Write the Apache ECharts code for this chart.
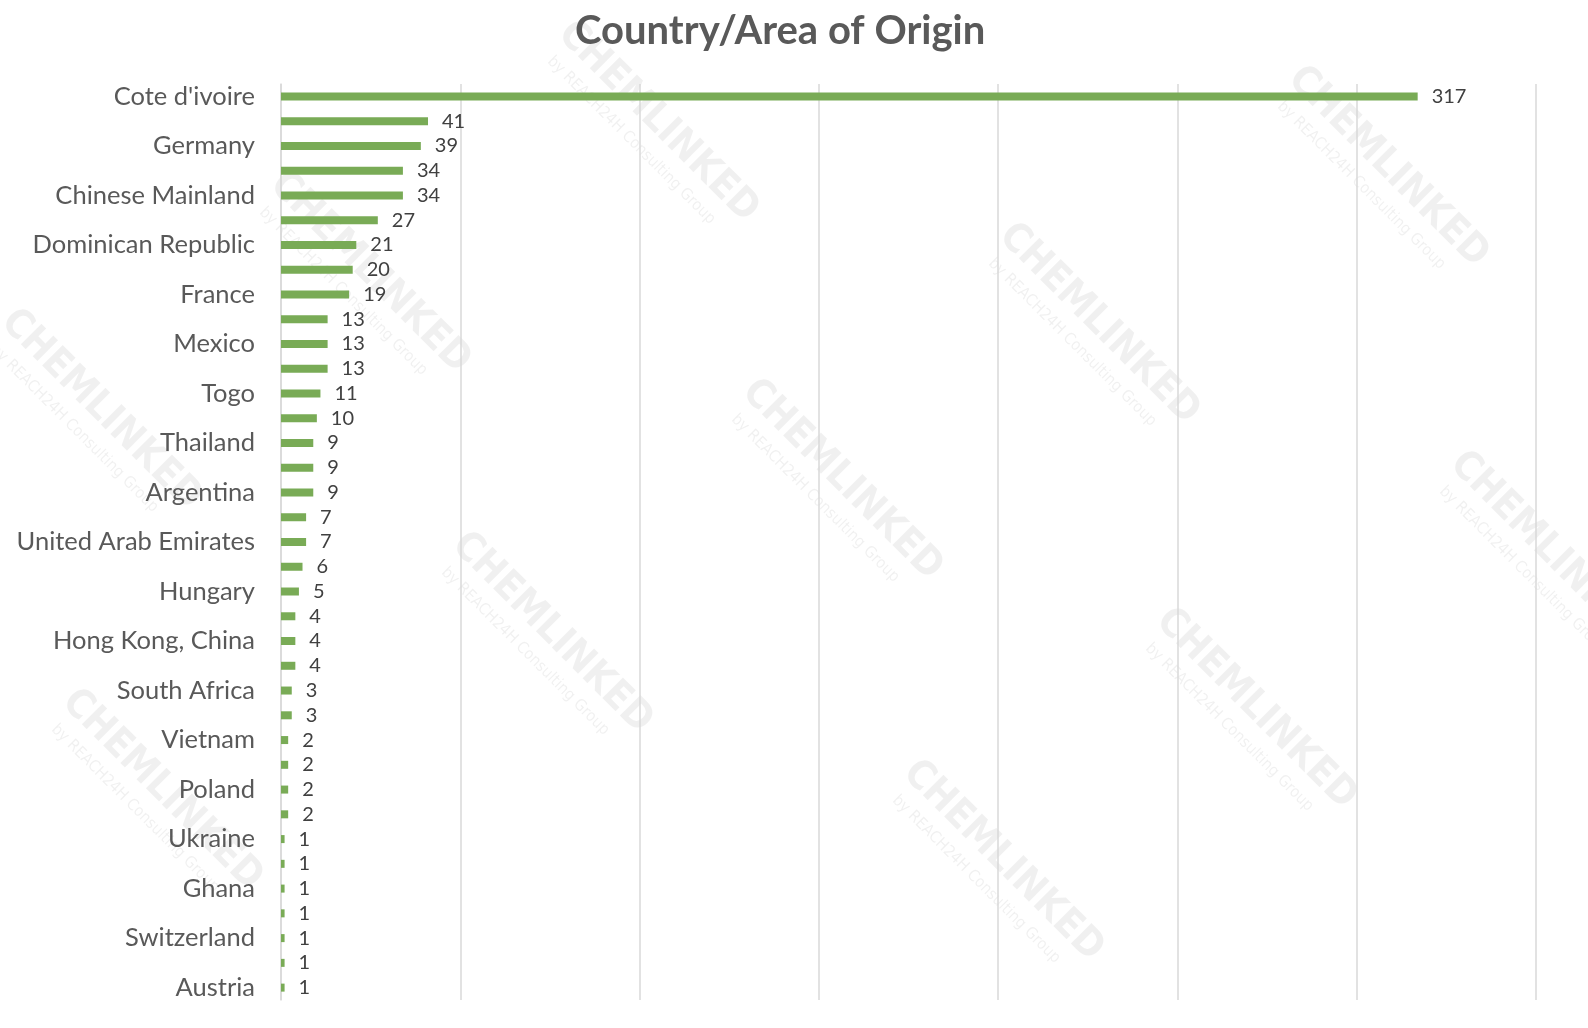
<!DOCTYPE html>
<html>
<head>
<meta charset="utf-8">
<script src="https://cdn.jsdelivr.net/npm/echarts@6/dist/echarts.min.js"></script>
<style>
  html, body { margin: 0; padding: 0; background: #fff; }
  #chart { width: 1588px; height: 1028px; }
</style>
</head>
<body>
<div id="chart"></div>
<script>
// countries, top to bottom (every second one is labelled in the original)
const countries = [
  "Cote d'ivoire", "Italy", "Germany", "Netherlands", "Chinese Mainland", "Spain",
  "Dominican Republic", "Peru", "France", "Belgium", "Mexico", "Ecuador",
  "Togo", "Indonesia", "Thailand", "India", "Argentina", "Brazil",
  "United Arab Emirates", "Malaysia", "Hungary", "Japan", "Hong Kong, China", "United Kingdom",
  "South Africa", "United States", "Vietnam", "Singapore", "Poland", "Turkey",
  "Ukraine", "Colombia", "Ghana", "Australia", "Switzerland", "Canada", "Austria"
];
const counts = [
  317, 41, 39, 34, 34, 27,
  21, 20, 19, 13, 13, 13,
  11, 10, 9, 9, 9, 7,
  7, 6, 5, 4, 4, 4,
  3, 3, 2, 2, 2, 2,
  1, 1, 1, 1, 1, 1, 1
];
const xTicks = { min: 0, max: 350, step: 50 };

// watermark centres (page pixels)
const marks = [
  [658, 122], [1388, 167], [370, 273], [1099, 324], [101, 410], [842, 480],
  [1550, 552], [552, 633], [1256, 709], [162, 790], [1003, 861]
];

const FONT = "Lato, 'Open Sans', sans-serif";
const chart = echarts.init(document.getElementById("chart"));

const watermark = marks.map(([x, y]) => ({
  type: "group",
  x, y,
  rotation: -Math.PI / 4,
  silent: true,
  z: -10,
  children: [
    { type: "text", style: { text: "CHEMLINKED", x: 0, y: 0, align: "center", verticalAlign: "middle",
      font: "bold 40px 'DejaVu Sans Condensed', sans-serif", fill: "rgba(0,0,0,0.06)" } },
    { type: "text", style: { text: "by REACH24H Consulting Group", x: -6, y: 32, align: "center", verticalAlign: "middle",
      font: "16px 'DejaVu Sans Condensed', sans-serif", fill: "rgba(0,0,0,0.06)" } }
  ]
}));

chart.setOption({
  animation: false,
  backgroundColor: "#ffffff",
  title: {
    text: "Country/Area of Origin",
    left: 570,
    top: 6,
    textStyle: { fontFamily: FONT, fontSize: 40, fontWeight: "bold", color: "#595959" }
  },
  graphic: watermark,
  grid: { left: 281, right: 52, top: 84, bottom: 28 },
  xAxis: {
    type: "value",
    min: xTicks.min,
    max: xTicks.max,
    interval: xTicks.step,
    axisLabel: { show: false },
    axisTick: { show: false },
    axisLine: { show: false },
    splitLine: { show: true, lineStyle: { color: "#d9d9d9", width: 1.5 } }
  },
  yAxis: {
    type: "category",
    inverse: true,
    data: countries,
    axisTick: { show: false },
    axisLine: { show: true, lineStyle: { color: "#d9d9d9", width: 1.5 } },
    axisLabel: {
      interval: 1,
      margin: 26,
      fontFamily: FONT,
      fontSize: 25.5,
      color: "#595959"
    }
  },
  series: [{
    type: "bar",
    data: counts,
    barWidth: 8,
    itemStyle: { color: "#79ab56" },
    label: {
      show: true,
      position: "right",
      distance: 14,
      fontFamily: FONT,
      fontSize: 20,
      color: "#404040"
    }
  }]
});
</script>
</body>
</html>
